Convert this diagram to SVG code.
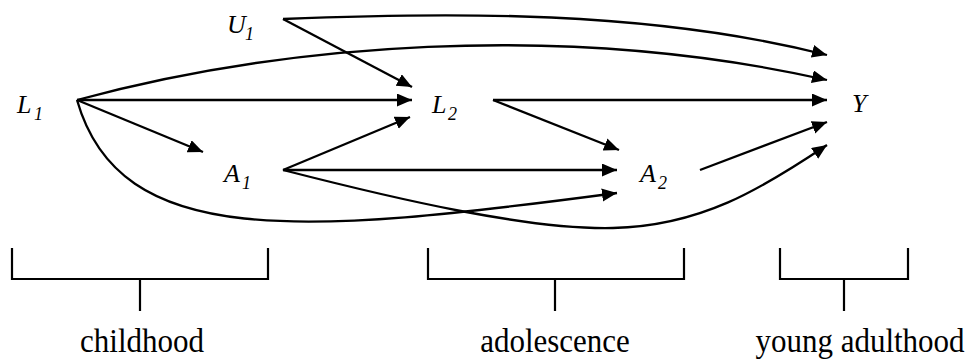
<svg xmlns="http://www.w3.org/2000/svg" width="974" height="362" viewBox="0 0 974 362">
<style>
.e{fill:none;stroke:#000;stroke-width:2.3;marker-end:url(#ah)}
.b{fill:none;stroke:#000;stroke-width:2.2}
.n{font-family:"Liberation Serif","Times New Roman",serif;font-style:italic;font-size:26px;fill:#000}
.s{font-family:"Liberation Serif","Times New Roman",serif;font-style:italic;font-size:18px;fill:#000}
.t{font-family:"Liberation Serif","Times New Roman",serif;font-size:31px;fill:#000;text-anchor:middle}
</style>
<defs>
<marker id="ah" markerUnits="userSpaceOnUse" markerWidth="16" markerHeight="14" refX="15" refY="6.5" orient="auto">
<path d="M0,0 L15,6.5 L0,13 z" fill="#000"/>
</marker>
</defs>
<g id="connectors">
<path class="e" d="M283,19 L412,87"/>
<path class="e" d="M283,19 C450,12 650,10 827,55"/>
<path class="e" d="M77,100 C280,45 560,20 827,80"/>
<path class="e" d="M77,100 L412,100"/>
<path class="e" d="M77,100 L203,152"/>
<path class="e" d="M77,100 C120,250 300,235 617,193"/>
<path class="e" d="M283,170 L410,117"/>
<path class="e" d="M283,170 L617,170"/>
<path class="e" d="M283,170 C400,200 530,230 613,228 C700,226 760,190 827,145"/>
<path class="e" d="M493,100 L827,100"/>
<path class="e" d="M493,100 L619,150"/>
<path class="e" d="M700,170 L827,122"/>
</g>
<g id="U1"><text class="n" x="227" y="33">U</text><text class="s" x="245" y="40">1</text></g>
<g id="L1"><text class="n" x="17" y="113">L</text><text class="s" x="34" y="120">1</text></g>
<g id="A1"><text class="n" x="224" y="182">A</text><text class="s" x="242" y="189">1</text></g>
<g id="L2"><text class="n" x="432" y="113">L</text><text class="s" x="448" y="120">2</text></g>
<g id="A2"><text class="n" x="640" y="182">A</text><text class="s" x="658" y="189">2</text></g>
<g id="Y"><text class="n" x="852" y="112">Y</text></g>
<g id="childhood"><path class="b" d="M12,248 V279 H268 V248 M140,279 V311"/><text class="t" transform="translate(142,352) scale(1,1.12)">childhood</text></g>
<g id="adolescence"><path class="b" d="M428,248 V279 H684 V248 M555,279 V311"/><text class="t" transform="translate(555,352) scale(1,1.12)">adolescence</text></g>
<g id="young_adulthood"><path class="b" d="M780,248 V279 H908 V248 M844,279 V311"/><text class="t" transform="translate(860,352) scale(1,1.12)">young adulthood</text></g>
</svg>
